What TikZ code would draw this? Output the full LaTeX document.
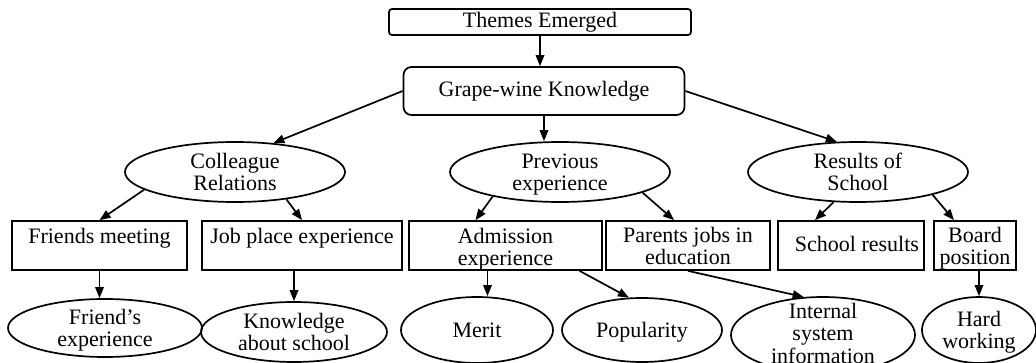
\documentclass[tikz,border=0pt]{standalone}
\usepackage{fontspec}
\setmainfont{Liberation Serif}
\usetikzlibrary{shapes.geometric,arrows.meta,calc}
\newcommand\etxt[2][-0.38em]{\makebox[0pt]{\raisebox{#1}[0pt][0pt]{\begin{tabular}{@{}c@{}}#2\end{tabular}}}}
\tikzset{
  every node/.style={font=\fontsize{22}{22.5}\selectfont},
  box/.style={draw, line width=1.7pt, rectangle, inner sep=0pt},
  ell/.style={draw, line width=1.7pt, ellipse, inner sep=0pt},
  arr/.style={line width=1.7pt, -{Triangle[length=11pt,width=8.5pt]}}
}
\begin{document}
\begin{tikzpicture}[x=1pt,y=-1pt]
\useasboundingbox (0,0) rectangle (1036,363);
\clip (0,0) rectangle (1036,363);
% top
\node[box, rounded corners=3pt, minimum width=302pt, minimum height=26pt] (themes) at (540,22) {\etxt[-0.3em]{Themes Emerged}};
\node[box, rounded corners=8pt, minimum width=281pt, minimum height=48pt] (grape) at (544,91) {\etxt[-0.3em]{Grape-wine Knowledge}};
% level 2 ellipses
\node[ell, minimum width=220pt, minimum height=60pt] (coll) at (235,172) {\etxt{Colleague\\Relations}};
\node[ell, minimum width=220pt, minimum height=60pt] (prev) at (560,172) {\etxt{Previous\\experience}};
\node[ell, minimum width=220pt, minimum height=60pt] (res) at (858,172) {\etxt{Results of\\School}};
% level 3 boxes
\node[box, minimum width=175pt, minimum height=49pt] (friends) at (99.5,245.5) {\etxt[-0.45em]{Friends meeting\\~}};
\node[box, minimum width=200pt, minimum height=49pt] (job) at (302,245.5) {\etxt[-0.45em]{Job place experience\\~}};
\node[box, minimum width=193pt, minimum height=49pt] (adm) at (505.5,245.5) {\etxt[-0.45em]{Admission\\experience}};
\node[box, minimum width=164pt, minimum height=49pt] (par) at (688,245.5) {\etxt[-0.4em]{Parents jobs in\\education}};
\node[box, minimum width=146pt, minimum height=49pt] (schres) at (851,245.5) {\etxt[-0.3em]{\hspace*{12pt}School results}};
\node[box, minimum width=82pt, minimum height=49pt] (board) at (975,245.5) {\etxt[-0.4em]{Board\\position}};
% level 4 ellipses
\node[ell, minimum width=194pt, minimum height=58pt] (fexp) at (105,328) {\etxt{Friend's\\experience}};
\node[ell, minimum width=186pt, minimum height=60pt] (know) at (294,332) {\etxt{Knowledge\\about school}};
\node[ell, minimum width=152pt, minimum height=66pt] (merit) at (477,330) {\etxt{Merit}};
\node[ell, minimum width=160pt, minimum height=64pt] (pop) at (642,330) {\etxt{Popularity}};
\node[ell, minimum width=184pt, minimum height=76pt] (int) at (823,335) {\etxt[-0.3em]{Internal\\system\\information}};
\node[ell, minimum width=114pt, minimum height=66pt] (hard) at (979,330) {\etxt{Hard\\working}};
% connectors
\draw[arr] (themes.south) -- (themes.south |- grape.north);
\draw[arr] (grape.west) -- (coll.37);
\draw[arr] (grape.south) -- (grape.south |- prev.north);
\draw[arr] (grape.east) -- (res.125);
\draw[arr] (coll.191) -- (friends.north);
\draw[arr] (coll.-28) -- (job.north);
\draw[arr] (prev.200) -- ([xshift=-30pt]adm.north);
\draw[arr] (prev.-14) -- ([xshift=-14pt]par.north);
\draw[arr] (res.231) -- ([xshift=-36pt]schres.north);
\draw[arr] (res.-17) -- ([xshift=-21pt]board.north);
\draw[arr] (friends.south) -- (friends.south |- fexp.north);
\draw[arr] (job.south -| know.north) -- (know.north);
\draw[arr] ([xshift=-18pt]adm.south) -- ([xshift=-18pt]adm.south |- merit.north);
\draw[arr] ([xshift=74pt]adm.south) -- (pop.112);
\draw[arr] (par.south) -- (int.117);
\draw[arr] (board.south -| hard.north) -- (hard.north);
\end{tikzpicture}
\end{document}
